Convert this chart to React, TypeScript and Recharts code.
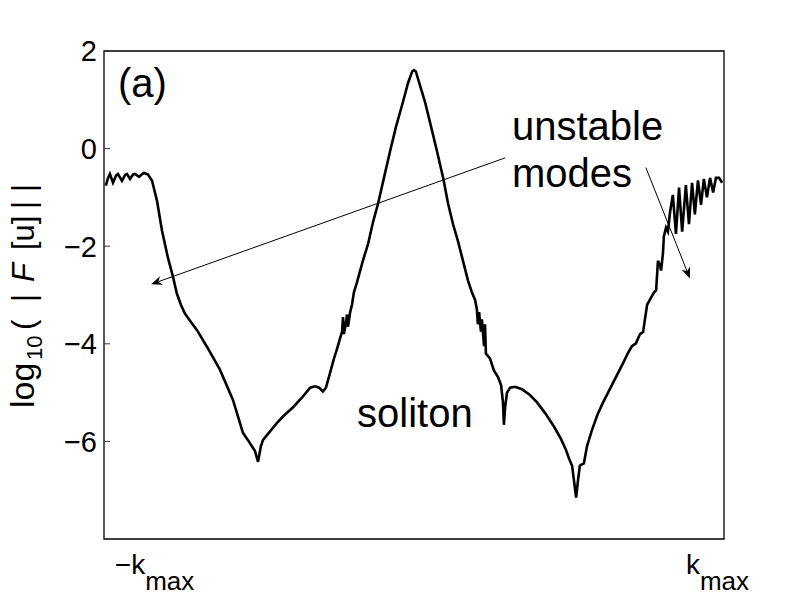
import React from 'react';
import { LineChart, Line, XAxis, YAxis, ReferenceArea, ReferenceLine } from 'recharts';

// wavenumber, scaled so that the plot spans -1 .. 1
const kValues = [
  -0.994, -0.987, -0.981, -0.971, -0.961, -0.955, -0.942, -0.932, -0.926, -0.916,
  -0.906, -0.9, -0.887, -0.877, -0.871, -0.858, -0.845, -0.829, -0.813, -0.794,
  -0.777, -0.765, -0.752, -0.739, -0.719, -0.7, -0.668, -0.626, -0.584, -0.552,
  -0.535, -0.523, -0.513, -0.503, -0.494, -0.487, -0.465, -0.442, -0.416, -0.39,
  -0.361, -0.335, -0.319, -0.306, -0.294, -0.284, -0.271, -0.258, -0.248, -0.239,
  -0.232, -0.229, -0.226, -0.219, -0.216, -0.213, -0.206, -0.2, -0.194, -0.184,
  -0.165, -0.148, -0.132, -0.116, -0.097, -0.077, -0.058, -0.035, -0.019, -0.006,
  0, 0.006, 0.019, 0.035, 0.055, 0.074, 0.094, 0.11, 0.126, 0.142,
  0.158, 0.174, 0.187, 0.197, 0.203, 0.206, 0.21, 0.216, 0.219, 0.226,
  0.229, 0.232, 0.245, 0.258, 0.271, 0.281, 0.287, 0.29, 0.294, 0.3,
  0.31, 0.326, 0.348, 0.374, 0.397, 0.423, 0.452, 0.474, 0.49, 0.5,
  0.51, 0.516, 0.523, 0.529, 0.535, 0.539, 0.548, 0.558, 0.574, 0.592,
  0.61, 0.626, 0.642, 0.658, 0.674, 0.69, 0.703, 0.716, 0.729, 0.739,
  0.745, 0.752, 0.765, 0.774, 0.781, 0.787, 0.794, 0.797, 0.803, 0.806,
  0.813, 0.819, 0.826, 0.835, 0.845, 0.855, 0.865, 0.877, 0.887, 0.897,
  0.906, 0.916, 0.926, 0.935, 0.945, 0.955, 0.965, 0.974, 0.984, 0.994,
];

// log10(|F[u]|)
const logF = [
  -0.76, -0.6, -0.52, -0.7, -0.55, -0.52, -0.66, -0.54, -0.52, -0.62,
  -0.53, -0.52, -0.58, -0.52, -0.5, -0.53, -0.66, -1.07, -1.68, -2.23,
  -2.64, -2.97, -3.2, -3.38, -3.56, -3.72, -4.06, -4.53, -5.15, -5.82,
  -5.98, -6.1, -6.2, -6.42, -6.1, -5.97, -5.8, -5.62, -5.45, -5.3,
  -5.1, -4.9, -4.87, -4.9, -4.98, -4.9, -4.6, -4.3, -4.1, -3.9,
  -3.75, -3.45, -3.8, -3.55, -3.4, -3.65, -3.35, -3.2, -2.95, -2.74,
  -2.3, -1.95, -1.5, -1.13, -0.6, -0.05, 0.45, 0.97, 1.35, 1.58,
  1.61, 1.58, 1.3, 0.97, 0.45, -0.05, -0.6, -1.13, -1.55, -1.9,
  -2.3, -2.7, -2.95, -3.1, -3.3, -3.6, -3.35, -3.75, -3.5, -4.05,
  -3.6, -4.2, -4.3, -4.55, -4.68, -4.85, -5.2, -5.66, -5.3, -5.0,
  -4.9, -4.88, -4.93, -5.05, -5.2, -5.42, -5.7, -5.95, -6.17, -6.35,
  -6.5, -6.8, -7.15, -6.8, -6.5, -6.48, -6.45, -6.1, -5.77, -5.45,
  -5.2, -5.0, -4.8, -4.6, -4.4, -4.19, -4.05, -3.99, -3.8, -3.76,
  -3.5, -3.2, -3.05, -2.95, -2.9, -2.3, -2.4, -2.5, -2.15, -1.8,
  -1.62, -1.7, -1.3, -0.95, -1.75, -0.8, -1.7, -0.75, -1.55, -0.7,
  -1.35, -0.65, -1.15, -0.62, -1.0, -0.6, -0.9, -0.6, -0.6, -0.7,
];

const yTicks = [-6, -4, -2, 0, 2];
const xTicks = [-0.837, 0.979];
const xTickSigns = ['\u2212', ''];

// annotation arrows: [from, to] in data coordinates
const arrowLeft = [{ x: 0.294, y: -0.19 }, { x: -0.848, y: -2.78 }];
const arrowRight = [{ x: 0.748, y: -0.39 }, { x: 0.89, y: -2.66 }];

const data = kValues.map((k, i) => ({ k, v: logF[i] }));

const FONT = '"Liberation Sans", Arial, Helvetica, sans-serif';

const LeftTick = (props: any) => {
  const { x, y, payload } = props;
  const label = payload.value < 0 ? '\u2212' + Math.abs(payload.value) : String(payload.value);
  return (
    <g>
      <line x1={x} x2={x + 6} y1={y} y2={y} stroke="#333" strokeWidth={1} />
      <text x={x - 7} y={y} dy="0.36em" textAnchor="end" fontSize={29} fontFamily={FONT} fill="#000">
        {label}
      </text>
    </g>
  );
};

const RightTick = (props: any) => {
  const { x, y } = props;
  return <line x1={x - 6} x2={x} y1={y} y2={y} stroke="#333" strokeWidth={1} />;
};

const BottomTick = (props: any) => {
  const { x, y, index } = props;
  return (
    <text x={x} y={y + 35} textAnchor="middle" fontFamily={FONT} fill="#000">
      <tspan fontSize={28}>{xTickSigns[index] + 'k'}</tspan>
      <tspan fontSize={26} dy={16}>max</tspan>
    </text>
  );
};

const Arrow = (props: any) => {
  const { x1, y1, x2, y2 } = props;
  const a = Math.atan2(y2 - y1, x2 - x1);
  const len = 11;
  const w = 4.5;
  const bx = x2 - len * Math.cos(a);
  const by = y2 - len * Math.sin(a);
  const px = -Math.sin(a) * w;
  const py = Math.cos(a) * w;
  const nx = x2 - len * 0.7 * Math.cos(a);
  const ny = y2 - len * 0.7 * Math.sin(a);
  return (
    <g>
      <line x1={x1} y1={y1} x2={nx} y2={ny} stroke="#000" strokeWidth={1} />
      <path d={`M${x2},${y2} L${bx + px},${by + py} L${nx},${ny} L${bx - px},${by - py} Z`} fill="#000" />
    </g>
  );
};

const App: React.FC = () => {
  return (
    <div style={{ position: 'absolute', left: 0, top: 0, width: 791, height: 604, background: '#fff' }}>
      <LineChart width={791} height={604} data={data} margin={{ top: 51, right: 67, bottom: 25, left: 0 }}>
        <XAxis
          dataKey="k"
          type="number"
          domain={[-1, 1]}
          ticks={xTicks}
          allowDataOverflow
          height={40}
          tickSize={0}
          tickMargin={0}
          tickLine={false}
          axisLine={false}
          tick={<BottomTick />}
        />
        <YAxis
          type="number"
          domain={[-8, 2]}
          ticks={yTicks}
          allowDataOverflow
          width={104}
          tickSize={0}
          tickMargin={0}
          tickLine={false}
          axisLine={false}
          tick={<LeftTick />}
        />
        <YAxis
          yAxisId="r"
          orientation="right"
          type="number"
          domain={[-8, 2]}
          ticks={yTicks}
          allowDataOverflow
          width={0}
          tickSize={0}
          tickMargin={0}
          tickLine={false}
          axisLine={false}
          tick={<RightTick />}
        />
        <ReferenceArea x1={-1} x2={1} y1={-8} y2={2} fill="none" stroke="#000" strokeWidth={1.3} />
        <Line
          dataKey="v"
          type="linear"
          stroke="#000"
          strokeWidth={2.6}
          dot={false}
          isAnimationActive={false}
        />
        <ReferenceLine segment={arrowLeft} shape={<Arrow />} />
        <ReferenceLine segment={arrowRight} shape={<Arrow />} />
      </LineChart>
      <svg width={791} height={604} style={{ position: 'absolute', left: 0, top: 0, pointerEvents: 'none' }}>
        <g fontFamily={FONT} fill="#000">
          <text x={118} y={97} fontSize={40}>(a)</text>
          <text x={512} y={140} fontSize={40}>unstable</text>
          <text x={512} y={187} fontSize={40}>modes</text>
          <text x={357} y={427} fontSize={40}>soliton</text>
          <g transform="translate(34 408) rotate(-90)" fontSize={31}>
            <text x={0} y={0} fontSize={34}>log</text>
            <text x={48} y={8} fontSize={22}>10</text>
            <text x={78} y={0}>(</text>
            <text x={106} y={0}>|</text>
            <text x={126} y={0} fontStyle="italic">F</text>
            <text x={158} y={0}>[u]</text>
            <text x={199} y={0}>|</text>
            <text x={216} y={0}>|</text>
          </g>
        </g>
      </svg>
    </div>
  );
};

export default App;
